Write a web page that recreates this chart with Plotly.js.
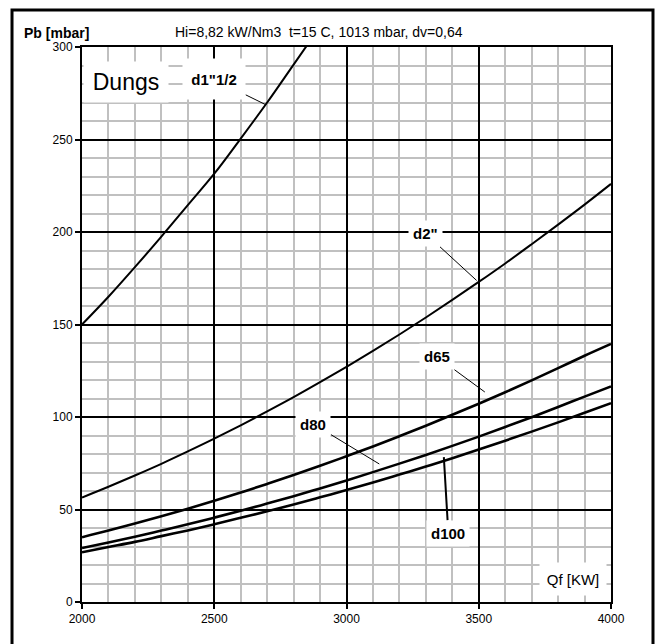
<!DOCTYPE html>
<html>
<head>
<meta charset="utf-8">
<script src="https://cdn.plot.ly/plotly-3.0.1.min.js"></script>
<style>html,body{margin:0;padding:0;background:#fff;}#chart{width:658px;height:644px;}</style>
</head>
<body>
<div id="chart"></div>
<script>
// Qf [KW]
const qf = [2000,2100,2200,2300,2400,2500,2600,2700,2800,2900,3000,3100,3200,3300,3400,3500,3600,3700,3800,3900,4000];
const qf15 = [2000,2100,2200,2300,2400,2500,2600,2700,2800,2900];
// Pb [mbar] per valve size
const pb_d1_5 = [150,165,181,197.5,214.5,231.5,250.5,270,290.5,311];
const pb_d2   = [56.5,62.3,68.4,74.7,81.4,88.3,95.5,103,110.7,118.8,127.1,135.7,144.6,153.8,163.3,173,183,193.4,204,214.8,226];
const pb_d65  = [35,38.6,42.4,46.3,50.4,54.7,59.2,63.8,68.6,73.6,78.8,84.1,89.6,95.3,101.2,107.2,113.4,119.8,126.4,133.1,139.5];
const pb_d80  = [29.2,32.2,35.3,38.6,42.0,45.6,49.3,53.2,57.2,61.4,65.7,70.2,74.8,79.5,84.4,89.4,94.6,99.9,105.4,111.0,116.5];
const pb_d100 = [26.9,29.7,32.5,35.6,38.7,42.0,45.5,49.0,52.7,56.6,60.5,64.6,68.9,73.2,77.7,82.4,87.2,92.1,97.1,102.3,107.5];

// curve labels: text, text position (tx,ty), leader end on curve (px,py)
const labelText = ['d1"1/2', 'd2"', 'd65', 'd80', 'd100'];
const labelTx = [2500, 3300, 3342, 2875, 3385];
const labelTy = [282.5, 199, 132.5, 96.2, 37.2];
const labelPx = [2692, 3492, 3523, 3124, 3368];
const labelPy = [269, 173.8, 113.5, 74.6, 78.3];
const labelArrowW = [1, 1, 1, 1, 2];

const xTicks = [2000, 2500, 3000, 3500, 4000];
const yTicks = [0, 50, 100, 150, 200, 250, 300];

const FONT = 'Liberation Sans, Arial, sans-serif';

const series = [
  {x: qf15, y: pb_d1_5, name: 'd1"1/2', w: 2},
  {x: qf, y: pb_d2, name: 'd2"', w: 2},
  {x: qf, y: pb_d65, name: 'd65', w: 2.6},
  {x: qf, y: pb_d80, name: 'd80', w: 2.6},
  {x: qf, y: pb_d100, name: 'd100', w: 2.6}
];
const traces = series.map(s => ({
  type: 'scatter', mode: 'lines', x: s.x, y: s.y, name: s.name,
  line: {color: '#000', width: s.w, shape: 'spline'}, hoverinfo: 'skip'
}));

const annotations = labelText.map((t, i) => ({
  text: '<b>' + t + '</b>', x: labelPx[i], y: labelPy[i], xref: 'x', yref: 'y',
  ax: labelTx[i], ay: labelTy[i], axref: 'x', ayref: 'y',
  showarrow: true, arrowhead: 0, arrowwidth: labelArrowW[i], arrowcolor: '#000', standoff: 0,
  bgcolor: '#fff', borderpad: 4,
  font: {family: FONT, size: 15, color: '#000'}
}));
annotations[0].width = 54; annotations[0].height = 32;

annotations.push({
  text: 'Dungs', x: 2165, y: 281, xref: 'x', yref: 'y', showarrow: false,
  bgcolor: '#fff', width: 82, height: 38, borderpad: 1,
  font: {family: FONT, size: 23, color: '#000'}
});
annotations.push({
  text: 'Qf [KW]', x: 3855, y: 12.2, xref: 'x', yref: 'y', showarrow: false,
  bgcolor: '#fff', width: 62, height: 28, borderpad: 2,
  font: {family: FONT, size: 15, color: '#000'}
});
annotations.push({
  text: '<b>Pb [mbar]</b>', x: -0.1134, y: 1.0252, xref: 'paper', yref: 'paper',
  xanchor: 'left', yanchor: 'middle', showarrow: false,
  font: {family: FONT, size: 14, color: '#000'}
});

const layout = {
  width: 658, height: 644,
  margin: {l: 82, r: 47, t: 47, b: 42},
  paper_bgcolor: '#fff', plot_bgcolor: '#fff',
  showlegend: false,
  title: {
    text: 'Hi=8,82 kW/Nm3  t=15 C, 1013 mbar, dv=0,64',
    x: 175/658, xanchor: 'left', xref: 'container',
    y: 1 - 32/644, yanchor: 'middle', yref: 'container',
    font: {family: FONT, size: 14, color: '#000'}
  },
  xaxis: {
    range: [2000, 4000], tickvals: xTicks, ticktext: xTicks.map(String),
    showgrid: true, gridcolor: '#000', gridwidth: 2,
    minor: {dtick: 100, tick0: 2000, showgrid: true, gridcolor: '#c0c0c0', gridwidth: 2, ticks: ''},
    showline: true, linecolor: '#000', linewidth: 2, mirror: true,
    ticks: 'outside', ticklen: 5, tickwidth: 2, tickcolor: '#000',
    zeroline: false, fixedrange: true,
    tickfont: {family: FONT, size: 12, color: '#000'}
  },
  yaxis: {
    range: [0, 300], tickvals: yTicks, ticktext: yTicks.map(String),
    showgrid: true, gridcolor: '#000', gridwidth: 2,
    minor: {dtick: 10, tick0: 0, showgrid: true, gridcolor: '#c0c0c0', gridwidth: 2, ticks: ''},
    showline: true, linecolor: '#000', linewidth: 2, mirror: true,
    ticks: 'outside', ticklen: 5, tickwidth: 2, tickcolor: '#000',
    zeroline: false, fixedrange: true,
    tickfont: {family: FONT, size: 12, color: '#000'}
  },
  annotations: annotations,
  shapes: [{
    type: 'rect', xref: 'paper', yref: 'paper',
    x0: -0.1323, x1: 1.0794, y0: -0.2, y1: 1.0667,
    line: {color: '#000', width: 3}, fillcolor: 'rgba(0,0,0,0)', layer: 'above'
  }]
};

Plotly.newPlot('chart', traces, layout, {staticPlot: true, displayModeBar: false});
</script>
</body>
</html>
